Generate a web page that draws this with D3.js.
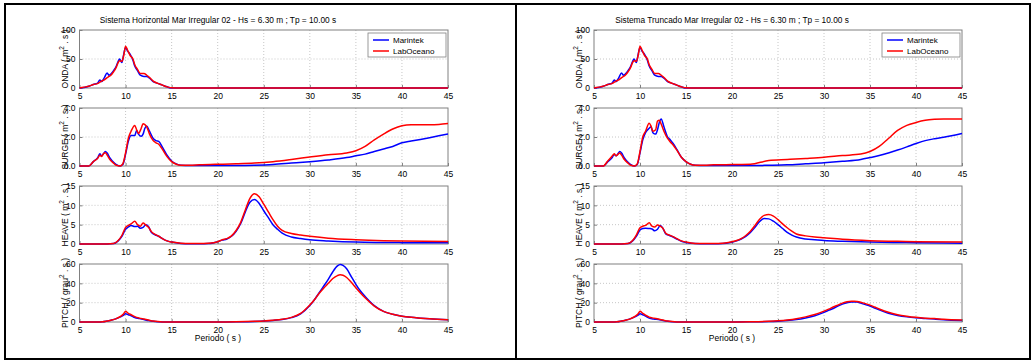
<!DOCTYPE html>
<html><head><meta charset="utf-8">
<script src="https://cdn.jsdelivr.net/npm/d3@7"></script>
<style>body{margin:0;background:#fff}svg{display:block;font-family:"Liberation Sans",Arial,sans-serif}</style>
</head><body><svg id="c" width="1034" height="362"></svg>
<script>
// ---------- data ----------
const xTicks = [5,10,15,20,25,30,35,40,45];
const seriesNames = ["Marintek","LabOceano"];
const titles = ["Sistema Horizontal Mar Irregular 02 - Hs = 6.30 m ; Tp = 10.00 s",
                "Sistema Truncado Mar Irregular 02 - Hs = 6.30 m ; Tp = 10.00 s"];
const xLabel = "Periodo ( s )";

const ondaT = [5,5.5,6,6.5,7,7.2,7.4,7.7,8,8.2,8.4,8.7,9,9.2,9.35,9.6,9.8,10,10.2,10.5,10.8,11,11.3,11.6,12,12.3,12.6,13,13.5,14,14.5,15,16,20,25,30,35,40,45];
const ondaMarH = [0,1,3,6,9,14,11,18,26,22,24,30,38,46,50,44,58,70,64,58,48,38,30,22,20,20,17,11,8,5,2,0,0,0,0,0,0,0,0];
const ondaLabH = [0,1.5,3,6,8,10,12,14,18,20,22,28,36,44,47,46,56,72,66,56,50,40,32,25,25,22,18,12,8,5,2,0.3,0,0,0,0,0,0,0];
const ondaMarT = [0,1,3,6,9,14,11,18,26,22,24,30,38,46,50,44,58,70,64,58,48,38,30,22,20,20,17,11,8,5,2,0,0,0,0,0,0,0,0];
const ondaLabT = [0,1.5,3,6,8,10,12,14,18,20,22,28,36,44,47,46,56,72,66,56,50,40,32,25,25,22,18,12,8,5,2,0.3,0,0,0,0,0,0,0];

const surgeT = [5,6,6.5,7,7.2,7.4,7.6,7.8,8,8.3,8.7,9,9.4,9.7,10,10.3,10.6,11,11.2,11.4,11.7,11.9,12.1,12.3,12.6,13,13.3,13.6,14,14.5,15,15.5,16,17,18,20,22,24,26,28,30,32,34,35,36,37,38,39,40,41,42,43,44,45];
const surgeMarH = [0,0,0.3,0.6,0.85,0.7,0.85,1.0,0.9,0.55,0.25,0.1,0,0.1,0.8,1.7,2.1,2.1,2.45,2.2,2.05,2.2,2.6,2.75,2.4,1.9,1.75,1.7,1.3,0.75,0.35,0.15,0.05,0.03,0.03,0.03,0.03,0.05,0.1,0.2,0.3,0.42,0.58,0.7,0.82,1.0,1.17,1.35,1.6,1.72,1.83,1.95,2.08,2.2];
const surgeLabH = [0,0,0.3,0.55,0.75,0.65,0.85,0.92,0.75,0.45,0.2,0.05,0,0.15,0.9,1.9,2.4,2.8,2.5,2.25,2.6,2.92,2.85,2.7,2.2,1.75,1.6,1.5,1.15,0.65,0.3,0.12,0.05,0.05,0.08,0.12,0.15,0.2,0.3,0.45,0.62,0.78,0.9,1.05,1.35,1.8,2.2,2.55,2.78,2.85,2.85,2.85,2.87,2.93];
const surgeMarT = [0,0,0.3,0.6,0.8,0.7,0.85,1.0,0.9,0.55,0.25,0.1,0,0.1,0.9,1.8,2.3,2.6,2.7,2.3,2.2,2.5,3.0,3.25,2.7,2.0,1.8,1.55,1.15,0.6,0.3,0.12,0.05,0.03,0.03,0.03,0.03,0.05,0.08,0.15,0.22,0.32,0.45,0.58,0.72,0.9,1.1,1.32,1.55,1.75,1.88,1.98,2.1,2.25];
const surgeLabT = [0,0,0.35,0.7,0.85,0.7,0.8,0.9,0.75,0.45,0.2,0.05,0,0.15,1.0,2.0,2.4,2.95,2.75,2.4,2.5,3.1,3.15,2.9,2.4,1.9,1.65,1.45,1.1,0.6,0.3,0.12,0.05,0.05,0.08,0.1,0.12,0.38,0.45,0.52,0.6,0.72,0.82,1.0,1.35,1.9,2.45,2.8,3.0,3.15,3.22,3.25,3.25,3.25];

const heaveT = [5,8,8.7,9.2,9.6,10,10.3,10.6,11,11.3,11.6,11.9,12.2,12.5,12.8,13.2,13.6,14,14.5,15,16,17,18,19,20,20.5,21,21.5,22,22.5,23,23.5,24,24.5,25,25.5,26,26.5,27,28,29,30,32,35,38,40,45];
const heaveMarH = [0,0,0.1,0.8,2.0,3.8,4.4,4.8,4.5,4.6,4.1,4.3,5.0,4.5,3.0,2.4,2.0,1.4,0.8,0.5,0.15,0.05,0.05,0.1,0.6,1.0,1.3,2.0,3.3,5.3,8.3,10.8,11.5,10.5,8.6,6.8,5.0,3.8,2.8,1.8,1.4,1.1,0.8,0.5,0.4,0.35,0.3];
const heaveLabH = [0,0,0.1,0.9,2.2,4.3,4.8,5.2,5.9,5.0,4.6,5.4,4.9,4.3,3.2,2.5,2.0,1.4,0.8,0.5,0.2,0.1,0.1,0.2,0.6,1.1,1.4,2.1,3.5,5.6,8.8,11.8,13.0,12.2,10.3,8.3,6.3,4.6,3.5,2.7,2.3,2.0,1.5,1.1,0.85,0.75,0.65];
const heaveMarT = [0,0,0.1,0.8,2.0,3.6,4.0,4.1,4.0,3.9,3.4,3.8,4.8,4.0,2.6,2.2,1.8,1.3,0.7,0.4,0.1,0.05,0.05,0.1,0.5,0.8,1.3,2.0,3.0,4.3,5.8,6.6,6.5,5.9,5.0,4.0,3.0,2.3,1.8,1.3,1.1,0.9,0.7,0.5,0.4,0.35,0.2];
const heaveLabT = [0,0,0.1,0.9,2.3,4.2,4.6,4.8,5.5,4.6,4.4,4.9,4.6,4.0,2.8,2.3,1.9,1.4,0.8,0.5,0.15,0.1,0.1,0.2,0.6,0.9,1.4,2.2,3.3,4.8,6.4,7.4,7.6,7.2,6.3,5.2,4.2,3.3,2.6,2.1,1.8,1.6,1.2,0.85,0.7,0.6,0.5];

const pitchT = [5,7,7.5,8,8.5,9,9.5,9.8,10,10.3,10.6,11,11.5,12,12.5,13,13.5,14,15,20,22,24,25,26,27,28,29,30,30.5,31,31.5,32,32.5,33,33.3,33.6,34,34.5,35,35.5,36,37,38,39,40,41,42,43,45];
const pitchMarH = [0,0,0.2,1,2,3.5,5.5,7,8.5,7.5,6.5,4.5,3.5,2.5,1.5,0.7,0.3,0.1,0,0,0.2,0.6,1.0,1.6,2.5,4.5,8.5,17,23,30,37,44,52,58,59.5,58.5,55,47,39,32,26.5,17,11,8,6,4.8,4,3.3,2.3];
const pitchLabH = [0,0,0.2,1,2,3.5,6,8.5,11,9,7.5,5.5,4,3,2,1,0.4,0.1,0,0,0.2,0.7,1.1,1.8,2.8,4.8,8.8,17.5,23,29.5,35,40,45,48,48.8,48.3,46,41,35.5,30,25,16.5,11,8,6,4.8,4,3.3,2.3];
const pitchMarT = [0,0,0.2,1,2,3.5,5.5,7,8.5,7.5,6,4,3,2.5,1.5,0.7,0.3,0.1,0,0,0.2,0.5,0.9,1.5,2.5,4.2,6.5,10,12,14,16.5,18.5,20,20.7,20.8,20.6,19.5,18,16.5,14.5,12.5,9,6.8,5.3,4.3,3.6,3,2.4,1.5];
const pitchLabT = [0,0,0.2,1,2,3.5,6,8.5,11,9,7,5,4,3,2,1,0.4,0.1,0,0,0.2,0.7,1.2,2.0,3.3,5.3,7.8,11.3,13.3,15.5,17.5,19.5,21,21.5,21.5,21.3,20.5,19,17.5,15.5,13.5,10,7.6,6,4.8,4,3.5,2.8,2];

const yTicksOnda = [0,50,100], yTicksSurge = [0,2,4], yTicksHeave = [0,5,10,15], yTicksPitch = [0,20,40,60];
const yLabels = [["ONDA ( m","2"," . s )"],["SURGE ( m","2"," . s )"],["HEAVE ( m","2"," . s )"],["PITCH ( grau","2"," . s )"]];

// ---------- layout ----------
const svg = d3.select("#c");
const colors = ["#0000ff","#ff0000"];
const panels = [{x0:79.5,x1:448,tx:218},{x0:594,x1:962,tx:732}];
const rows = [30,108,186,264], rowH = 58;

const rowDefs = [
  {t:ondaT, ticks:yTicksOnda, data:[[ondaMarH,ondaLabH],[ondaMarT,ondaLabT]]},
  {t:surgeT, ticks:yTicksSurge, data:[[surgeMarH,surgeLabH],[surgeMarT,surgeLabT]]},
  {t:heaveT, ticks:yTicksHeave, data:[[heaveMarH,heaveLabH],[heaveMarT,heaveLabT]]},
  {t:pitchT, ticks:yTicksPitch, data:[[pitchMarH,pitchLabH],[pitchMarT,pitchLabT]]}
];

// outer frame
svg.append("rect").attr("x",5).attr("y",4).attr("width",1025).attr("height",355)
  .attr("fill","none").attr("stroke","#000").attr("stroke-width",2);
svg.append("line").attr("x1",516).attr("x2",516).attr("y1",4).attr("y2",359)
  .attr("stroke","#000").attr("stroke-width",2);

panels.forEach((p,pi)=>{
  const x = d3.scaleLinear().domain([5,45]).range([p.x0,p.x1]);
  svg.append("text").attr("x",p.tx).attr("y",23).attr("text-anchor","middle")
    .attr("font-size",8.3).attr("fill","#000").text(titles[pi]);
  rowDefs.forEach((r,ri)=>{
    const top = rows[ri], bot = top+rowH;
    const dom = d3.extent(r.ticks);
    const y = d3.scaleLinear().domain(dom).range([bot,top]);
    const g = svg.append("g");
    // grid
    g.selectAll(".gx").data(xTicks.slice(1,-1)).join("line")
      .attr("x1",d=>x(d)).attr("x2",d=>x(d)).attr("y1",top).attr("y2",bot)
      .attr("stroke","#b8b8b8").attr("stroke-width",0.8).attr("stroke-dasharray","1,2");
    g.selectAll(".gy").data(r.ticks.slice(1,-1)).join("line")
      .attr("x1",p.x0).attr("x2",p.x1).attr("y1",d=>y(d)).attr("y2",d=>y(d))
      .attr("stroke","#b8b8b8").attr("stroke-width",0.8).attr("stroke-dasharray","1,2");
    // axes
    const ax = d3.axisBottom(x).tickValues(xTicks).tickSizeInner(-3).tickSizeOuter(0).tickPadding(5);
    const ay = d3.axisLeft(y).tickValues(r.ticks).tickSizeInner(-3).tickSizeOuter(0).tickPadding(4);
    const gx = g.append("g").attr("transform",`translate(0,${bot})`).call(ax);
    const gy = g.append("g").attr("transform",`translate(${p.x0},0)`).call(ay);
    [gx,gy].forEach(a=>{
      a.select(".domain").remove();
      a.selectAll("line").attr("stroke","#808080");
      a.selectAll("text").attr("font-size",8.5).attr("fill","#000").attr("font-family","Liberation Sans, Arial, sans-serif");
    });
    g.append("rect").attr("x",p.x0).attr("y",top).attr("width",p.x1-p.x0).attr("height",rowH)
      .attr("fill","none").attr("stroke","#808080").attr("stroke-width",1);
    // lines
    r.data[pi].forEach((vals,si)=>{
      const pts = r.t.map((t,i)=>[t,vals[i]]);
      g.append("path").datum(pts)
        .attr("d",d3.line().x(d=>x(d[0])).y(d=>y(d[1])).curve(d3.curveMonotoneX))
        .attr("fill","none").attr("stroke",colors[si]).attr("stroke-width",1.5);
    });
    // y label
    const yl = yLabels[ri];
    const lab = g.append("text").attr("transform",`translate(${p.x0-12},${(top+bot)/2}) rotate(-90)`)
      .attr("text-anchor","middle").attr("font-size",8.5).attr("fill","#000");
    lab.append("tspan").text(yl[0]);
    lab.append("tspan").attr("dy",-4).attr("font-size",6.5).text(yl[1]);
    lab.append("tspan").attr("dy",4).text(yl[2]);
    // legend
    if(ri===0){
      const lx = x(45)-80, ly = top+3;
      const lg = g.append("g");
      lg.append("rect").attr("x",lx).attr("y",ly).attr("width",78).attr("height",24)
        .attr("fill","#fff").attr("stroke","#808080").attr("stroke-width",0.8);
      seriesNames.forEach((n,si)=>{
        const yy = ly+7+si*11;
        lg.append("line").attr("x1",lx+5).attr("x2",lx+21).attr("y1",yy).attr("y2",yy)
          .attr("stroke",colors[si]).attr("stroke-width",1.5);
        lg.append("text").attr("x",lx+25).attr("y",yy+3).attr("font-size",8).attr("fill","#000").text(n);
      });
    }
  });
  svg.append("text").attr("x",p.tx).attr("y",341).attr("text-anchor","middle")
    .attr("font-size",8.5).attr("fill","#000").text(xLabel);
});
</script></body></html>
